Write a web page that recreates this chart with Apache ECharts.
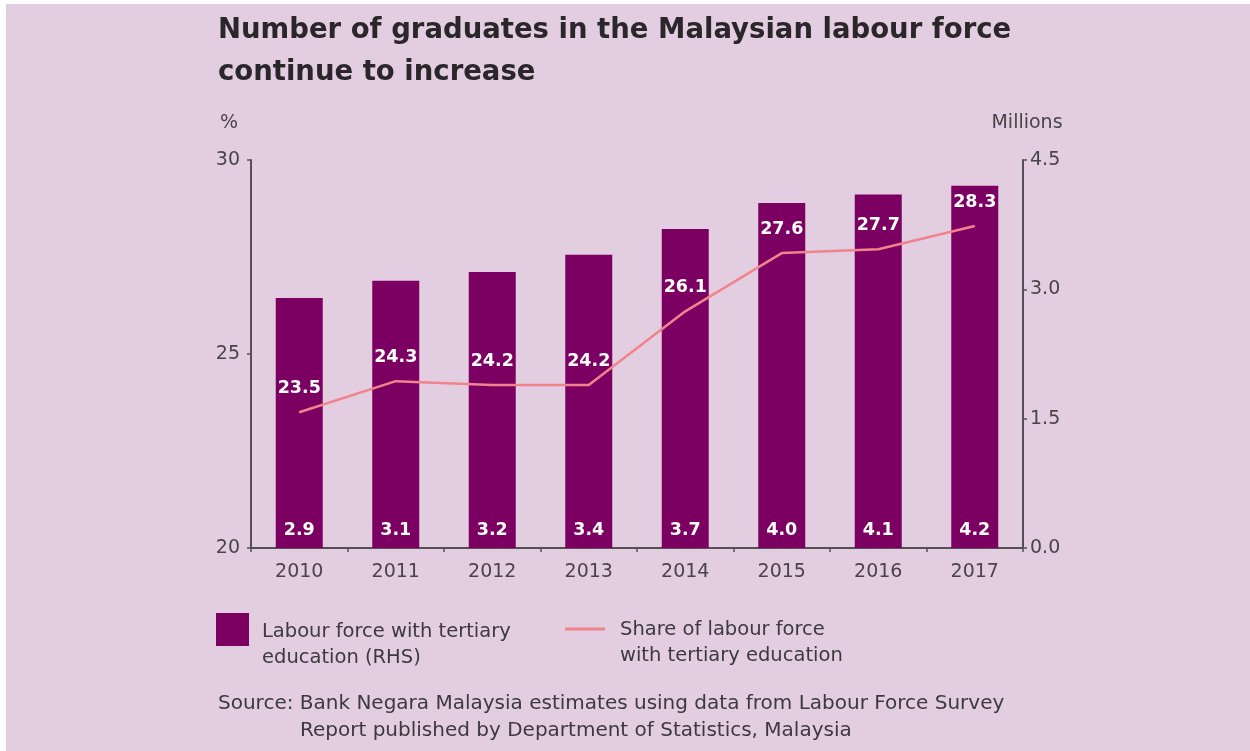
<!DOCTYPE html>
<html>
<head>
<meta charset="utf-8">
<script src="https://cdn.jsdelivr.net/npm/echarts@6/dist/echarts.min.js"></script>
<style>
  html, body { margin: 0; padding: 0; background: #ffffff; }
  #chart { position: absolute; left: 6px; top: 4px; width: 1244px; height: 747px; background: #e2cee0; }
</style>
</head>
<body>
<div id="chart"></div>
<script>
// Labour force data, 2010-2017
const years = ['2010', '2011', '2012', '2013', '2014', '2015', '2016', '2017'];
// Labour force with tertiary education, millions (right-hand scale)
const tertiaryMillions = [2.9, 3.1, 3.2, 3.4, 3.7, 4.0, 4.1, 4.2];
// Share of labour force with tertiary education, % (left-hand scale)
const tertiaryShare = [23.5, 24.3, 24.2, 24.2, 26.1, 27.6, 27.7, 28.3];

const leftTicks = { min: 20, max: 30, interval: 5 };
const rightTicks = { min: 0, max: 4.5, interval: 1.5 };

const FONT = '"DejaVu Sans", "Liberation Sans", Arial, sans-serif';
const BAR_COLOR = '#7b0062';
const LINE_COLOR = '#f0838c';
const AXIS_COLOR = '#555055';
const TEXT_COLOR = '#4a444a';
const LEGEND_TEXT = '#3e383f';

const BAR_NAME = 'Labour force with tertiary\neducation (RHS)';
const LINE_NAME = 'Share of labour force\nwith tertiary education';

const chart = echarts.init(document.getElementById('chart'), null, { renderer: 'canvas' });

const axisLineStyle = { show: true, lineStyle: { color: AXIS_COLOR, width: 2 } };
const tickStyle = { show: true, length: 4, lineStyle: { color: AXIS_COLOR, width: 1.5 } };
const labelBase = { color: TEXT_COLOR, fontSize: 19, fontFamily: FONT };

// Legend text sits a little below its key: an empty spacer line on top pushes it down
const legendText = (spacer) => ({
  fontSize: 19.5,
  color: LEGEND_TEXT,
  lineHeight: 26,
  fontFamily: FONT,
  rich: { sp: { fontSize: 1, lineHeight: spacer } }
});

chart.setOption({
  animation: false,
  textStyle: { fontFamily: FONT },
  title: [
    {
      text: 'Number of graduates in the Malaysian labour force\ncontinue to increase',
      left: 212, top: 6, padding: 0,
      textStyle: { fontSize: 27.5, fontWeight: 'bold', color: '#2a262a', lineHeight: 42, fontFamily: FONT }
    },
    {
      text: 'Source: Bank Negara Malaysia estimates using data from Labour Force Survey',
      left: 212, top: 690, padding: 0,
      textStyle: { fontSize: 20, fontWeight: 'normal', color: LEGEND_TEXT, fontFamily: FONT }
    },
    {
      text: 'Report published by Department of Statistics, Malaysia',
      left: 294, top: 717, padding: 0,
      textStyle: { fontSize: 20, fontWeight: 'normal', color: LEGEND_TEXT, fontFamily: FONT }
    }
  ],
  legend: [
    {
      left: 210, top: 584, padding: 0,
      itemWidth: 33, itemHeight: 33,
      data: [{ name: BAR_NAME, icon: 'rect' }],
      formatter: name => '{sp| }\n' + name,
      textStyle: { ...legendText(31), padding: [0, 0, 0, 8] }
    },
    {
      left: 559, top: 585.5, padding: 0,
      itemWidth: 40, itemHeight: 3,
      data: [{ name: LINE_NAME, icon: 'rect' }],
      formatter: name => '{sp| }\n' + name,
      textStyle: { ...legendText(27), padding: [0, 0, 0, 10] }
    }
  ],
  grid: { left: 245, right: 227, top: 156, bottom: 203, containLabel: false },
  xAxis: {
    type: 'category',
    data: years,
    boundaryGap: true,
    axisLine: axisLineStyle,
    axisTick: { ...tickStyle, alignWithLabel: false },
    splitLine: { show: false },
    axisLabel: { ...labelBase, margin: 15 }
  },
  yAxis: [
    {
      type: 'value',
      position: 'left',
      min: leftTicks.min, max: leftTicks.max, interval: leftTicks.interval,
      name: '%',
      nameLocation: 'end',
      nameGap: 27,
      nameTextStyle: { ...labelBase, align: 'right', padding: [0, 13, 0, 0] },
      axisLine: axisLineStyle,
      axisTick: tickStyle,
      splitLine: { show: false },
      axisLabel: { ...labelBase, margin: 11 }
    },
    {
      type: 'value',
      position: 'right',
      min: rightTicks.min, max: rightTicks.max, interval: rightTicks.interval,
      name: 'Millions',
      nameLocation: 'end',
      nameGap: 27,
      nameTextStyle: { ...labelBase, align: 'center', padding: [0, 0, 0, 8] },
      axisLine: axisLineStyle,
      axisTick: tickStyle,
      splitLine: { show: false },
      axisLabel: { ...labelBase, margin: 7, formatter: v => v.toFixed(1) }
    }
  ],
  series: [
    {
      name: BAR_NAME,
      type: 'bar',
      yAxisIndex: 1,
      data: tertiaryMillions,
      barWidth: 47,
      itemStyle: { color: BAR_COLOR },
      label: {
        show: true,
        position: 'insideBottom',
        distance: 9,
        color: '#ffffff',
        fontSize: 17.5,
        fontWeight: 'bold',
        fontFamily: FONT,
        formatter: p => p.value.toFixed(1)
      },
      z: 2
    },
    {
      name: LINE_NAME,
      type: 'line',
      yAxisIndex: 0,
      data: tertiaryShare,
      symbol: 'circle',
      symbolSize: 1,
      showSymbol: true,
      lineStyle: { color: LINE_COLOR, width: 2.5 },
      itemStyle: { color: LINE_COLOR },
      label: {
        show: true,
        position: 'top',
        distance: 14,
        color: '#ffffff',
        fontSize: 17.5,
        fontWeight: 'bold',
        fontFamily: FONT,
        formatter: p => p.value.toFixed(1)
      },
      z: 3
    }
  ]
});
</script>
</body>
</html>
